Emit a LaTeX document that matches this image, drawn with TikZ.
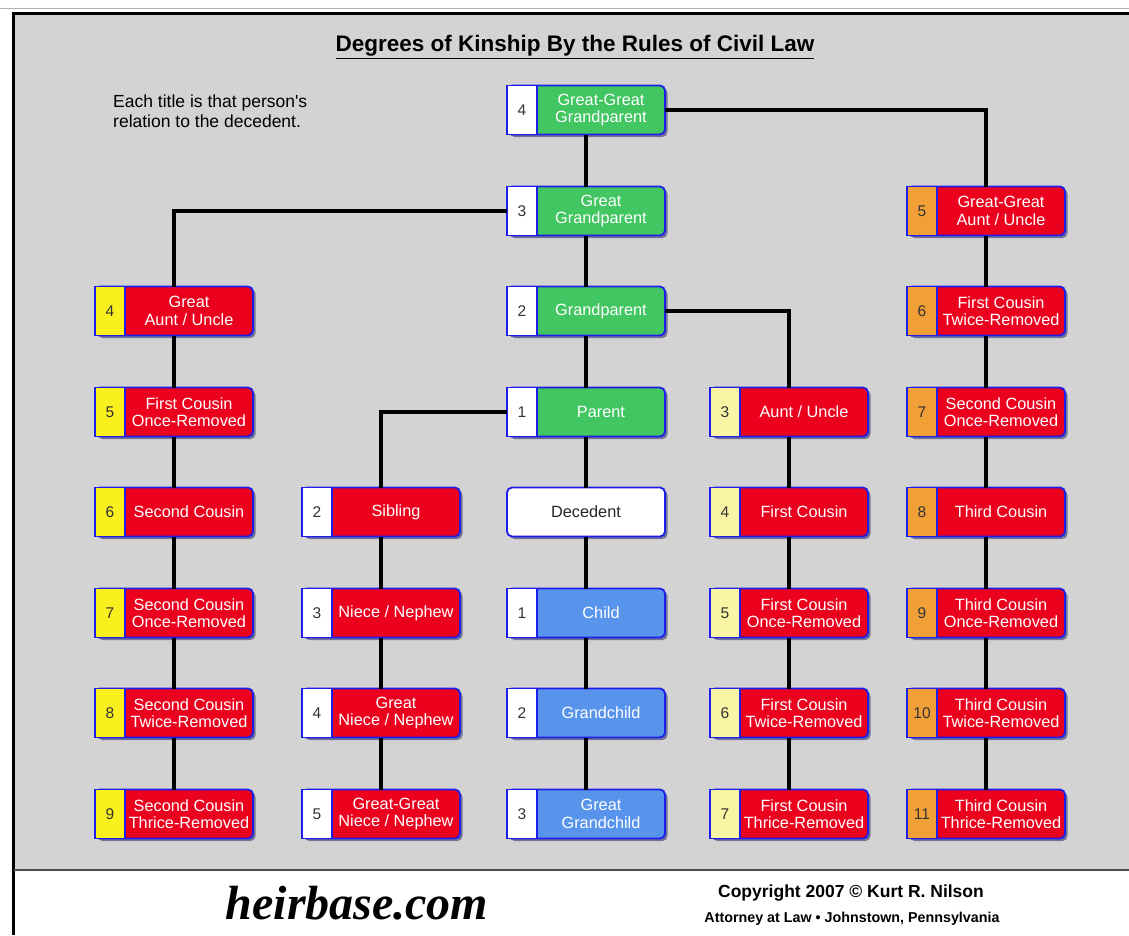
\documentclass[tikz,border=0pt]{standalone}
\usepackage{fontspec}
\setmainfont{Liberation Sans}
\newfontfamily\logofont{Liberation Serif}
\usetikzlibrary{shadows}
\definecolor{kinGray}{RGB}{211,211,211}
\definecolor{kinBorder}{RGB}{30,30,235}
\definecolor{kinGreen}{RGB}{66,198,98}
\definecolor{kinRed}{RGB}{235,0,30}
\definecolor{kinBlue}{RGB}{88,148,236}
\definecolor{kinYellow}{RGB}{250,240,30}
\definecolor{kinPale}{RGB}{250,245,165}
\definecolor{kinOrange}{RGB}{240,160,55}

\tikzset{
  numcell/.style={draw=kinBorder, line width=1.8pt, sharp corners, anchor=west, outer sep=0pt,
    minimum width=30pt, minimum height=49pt, inner sep=0pt, text=black!80,
    font=\fontsize{15.5}{17}\selectfont},
  kin/.style n args={3}{draw=kinBorder, line width=1.8pt, fill=#2, rounded corners=5pt, outer sep=0pt,
    minimum width=158pt, minimum height=49pt, inner xsep=0pt, inner ysep=0pt, text=white,
    font=\fontsize{16.3}{17.5}\selectfont,
    drop shadow={shadow xshift=2.5pt, shadow yshift=-2.5pt, fill=black!70!blue, opacity=0.45},
    execute at begin node={\hspace*{30pt}\begin{minipage}{128pt}\centering},
    execute at end node={\end{minipage}},
    label={[numcell, fill=#3]west:#1}},
  deceased/.style={draw=kinBorder, line width=1.8pt, fill=white, rounded corners=5pt, outer sep=0pt,
    minimum width=158pt, minimum height=49pt, inner sep=0pt, text=black!85,
    font=\fontsize{16.3}{17.5}\selectfont,
    drop shadow={shadow xshift=2.5pt, shadow yshift=-2.5pt, fill=black!70!blue, opacity=0.45}},
  link/.style={line width=3.2pt, black},
}

\begin{document}
\begin{tikzpicture}[x=1pt, y=-1pt]
\useasboundingbox (0,0) rectangle (1129,935);

% panel and frame
\fill[white] (0,0) rectangle (1129,935);
\fill[kinGray] (14,14) rectangle (1129,869);
\draw[gray!60, line width=1pt] (0,8) -- (1129,8);
\draw[black, line width=3pt] (13,935) -- (13,13) -- (1129,13);
\draw[black!70, line width=2pt] (14,870) -- (1129,870);

\node[font=\bfseries\fontsize{22.5}{26}\selectfont] (title) at (575,47) {\underline{Degrees of Kinship By the Rules of Civil Law}};
\node[anchor=north west, align=left, inner sep=0pt, font=\fontsize{17.5}{20}\selectfont] (note) at (113,95)
  {Each title is that person\textquotesingle s\\relation to the decedent.};

% direct line
\node[kin={4}{kinGreen}{white}] (ggp) at (586,110) {Great-Great\\Grandparent};
\node[kin={3}{kinGreen}{white}] (gp) at (586,211) {Great\\Grandparent};
\node[kin={2}{kinGreen}{white}] (grp) at (586,311) {Grandparent};
\node[kin={1}{kinGreen}{white}] (par) at (586,412) {Parent};
\node[deceased] (dec) at (586,512) {Decedent};
\node[kin={1}{kinBlue}{white}] (chi) at (586,613) {Child};
\node[kin={2}{kinBlue}{white}] (gch) at (586,713) {Grandchild};
\node[kin={3}{kinBlue}{white}] (ggch) at (586,814) {Great\\Grandchild};

% great aunt / uncle line
\node[kin={4}{kinRed}{kinYellow}] (gau) at (174,311) {Great\\Aunt / Uncle};
\node[kin={5}{kinRed}{kinYellow}] (fcor) at (174,412) {First Cousin\\Once-Removed};
\node[kin={6}{kinRed}{kinYellow}] (sc) at (174,512) {Second Cousin};
\node[kin={7}{kinRed}{kinYellow}] (scor) at (174,613) {Second Cousin\\Once-Removed};
\node[kin={8}{kinRed}{kinYellow}] (sctr) at (174,713) {Second Cousin\\Twice-Removed};
\node[kin={9}{kinRed}{kinYellow}] (scthr) at (174,814) {Second Cousin\\Thrice-Removed};

% sibling line
\node[kin={2}{kinRed}{white}] (sib) at (381,512) {Sibling};
\node[kin={3}{kinRed}{white}] (nn) at (381,613) {Niece / Nephew};
\node[kin={4}{kinRed}{white}] (gnn) at (381,713) {Great\\Niece / Nephew};
\node[kin={5}{kinRed}{white}] (ggnn) at (381,814) {Great-Great\\Niece / Nephew};

% aunt / uncle line
\node[kin={3}{kinRed}{kinPale}] (au) at (789,412) {Aunt / Uncle};
\node[kin={4}{kinRed}{kinPale}] (fc) at (789,512) {First Cousin};
\node[kin={5}{kinRed}{kinPale}] (fcor2) at (789,613) {First Cousin\\Once-Removed};
\node[kin={6}{kinRed}{kinPale}] (fctr2) at (789,713) {First Cousin\\Twice-Removed};
\node[kin={7}{kinRed}{kinPale}] (fcthr2) at (789,814) {First Cousin\\Thrice-Removed};

% great-great aunt / uncle line
\node[kin={5}{kinRed}{kinOrange}] (ggau) at (986,211) {Great-Great\\Aunt / Uncle};
\node[kin={6}{kinRed}{kinOrange}] (fctr) at (986,311) {First Cousin\\Twice-Removed};
\node[kin={7}{kinRed}{kinOrange}] (scor2) at (986,412) {Second Cousin\\Once-Removed};
\node[kin={8}{kinRed}{kinOrange}] (tc) at (986,512) {Third Cousin};
\node[kin={9}{kinRed}{kinOrange}] (tcor) at (986,613) {Third Cousin\\Once-Removed};
\node[kin={10}{kinRed}{kinOrange}] (tctr) at (986,713) {Third Cousin\\Twice-Removed};
\node[kin={11}{kinRed}{kinOrange}] (tcthr) at (986,814) {Third Cousin\\Thrice-Removed};

% connectors
\draw[link] (ggp) -- (gp) -- (grp) -- (par) -- (dec) -- (chi) -- (gch) -- (ggch);
\draw[link] (ggp.east) -| (ggau.north);
\draw[link] (gp.west) -| (gau.north);
\draw[link] (grp.east) -| (au.north);
\draw[link] (par.west) -| (sib.north);
\draw[link] (gau) -- (fcor) -- (sc) -- (scor) -- (sctr) -- (scthr);
\draw[link] (sib) -- (nn) -- (gnn) -- (ggnn);
\draw[link] (au) -- (fc) -- (fcor2) -- (fctr2) -- (fcthr2);
\draw[link] (ggau) -- (fctr) -- (scor2) -- (tc) -- (tcor) -- (tctr) -- (tcthr);

% footer
\node[font=\logofont\bfseries\itshape\fontsize{48}{52}\selectfont] (site) at (357,903) {heirbase.com};
\node[font=\bfseries\fontsize{17.5}{20}\selectfont] (copy) at (851,893) {Copyright 2007 © Kurt R. Nilson};
\node[font=\bfseries\fontsize{14.3}{16}\selectfont] (firm) at (852,919) {Attorney at Law • Johnstown, Pennsylvania};
\end{tikzpicture}
\end{document}
